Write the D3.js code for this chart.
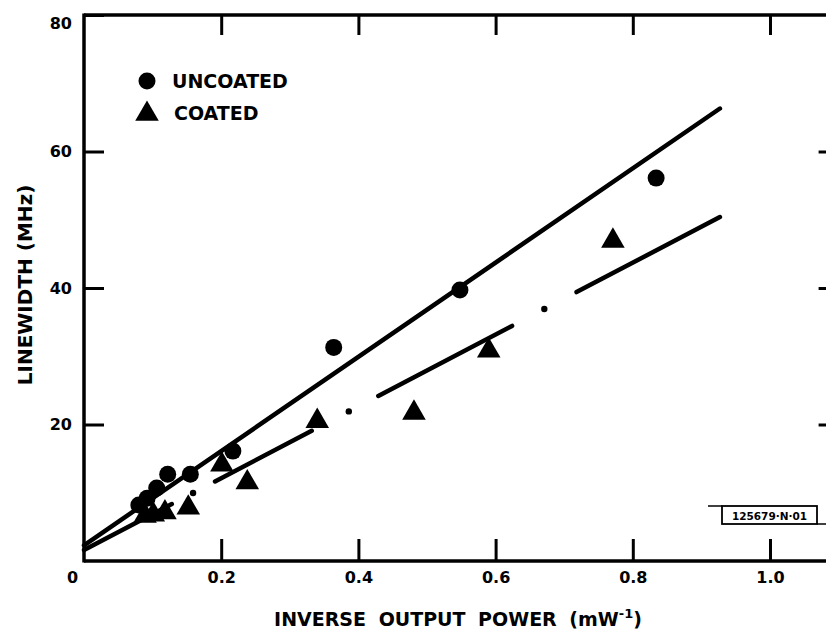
<!DOCTYPE html>
<html>
<head>
<meta charset="utf-8">
<script src="https://cdn.jsdelivr.net/npm/d3@7"></script>
<style>
  body { margin: 0; background: #fff; }
  text { font-family: "DejaVu Sans", sans-serif; font-weight: bold; fill: #000; }
</style>
</head>
<body>
<div id="chart"></div>
<script>
// data (x = inverse output power, mW^-1 ; y = linewidth, MHz)
var uncoatedX = [0.080, 0.092, 0.106, 0.122, 0.155, 0.217, 0.364, 0.548, 0.834];
var uncoatedY = [8.2, 9.2, 10.7, 12.7, 12.7, 16.1, 31.3, 39.7, 56.1];

var coatedX = [0.089, 0.101, 0.118, 0.152, 0.201, 0.238, 0.340, 0.481, 0.590, 0.771];
var coatedY = [6.6, 6.8, 7.1, 7.8, 14.1, 11.5, 20.5, 21.7, 30.8, 46.9];

// fitted lines (end points)
var uncoatedFitX = [0, 0.927];
var uncoatedFitY = [2.3, 66.3];
var coatedFitX = [0, 0.927];
var coatedFitY = [1.6, 50.4];

// dash-dot pattern of the coated fit, in x units
var coatedDashes = [[0, 0.128], [0.191, 0.332], [0.429, 0.624], [0.718, 0.927]];
var coatedDots = [0.159, 0.386, 0.671];

var xTicks = [0, 0.2, 0.4, 0.6, 0.8, 1.0];
var yTicks = [20, 40, 60, 80];

var W = 826, H = 639;

var svg = d3.select("#chart").append("svg")
    .attr("width", W)
    .attr("height", H);

var x = d3.scaleLinear().domain([0, 1.0]).range([84, 770]);
var y = d3.scaleLinear().domain([0, 80]).range([561, 15]);

var fmtX = function(d){ return d === 0 ? "0" : d3.format(".1f")(d); };

// bottom axis, ticks pointing up
var gx = svg.append("g")
    .attr("transform", "translate(0," + y(0) + ")")
    .call(d3.axisBottom(x).tickValues(xTicks).tickFormat(fmtX).tickSize(-22).tickPadding(11));
gx.select(".domain").remove();
gx.selectAll(".tick line").attr("stroke-width", 3);
gx.selectAll(".tick text").attr("font-size", 16).attr("font-family", "DejaVu Sans").attr("font-weight", "bold");
gx.selectAll(".tick").filter(function(d){ return d === 0; }).select("text").attr("dx", -12);
gx.selectAll(".tick").filter(function(d){ return d === 0; }).select("line").remove();

// top ticks
var gt = svg.append("g")
    .attr("transform", "translate(0," + y(80) + ")")
    .call(d3.axisTop(x).tickValues(xTicks.slice(1)).tickFormat("").tickSize(-20));
gt.select(".domain").remove();
gt.selectAll(".tick line").attr("stroke-width", 3);

// left axis, ticks pointing right
var gy = svg.append("g")
    .attr("transform", "translate(" + x(0) + ",0)")
    .call(d3.axisLeft(y).tickValues(yTicks).tickSize(-20).tickPadding(12));
gy.select(".domain").remove();
gy.selectAll(".tick line").attr("stroke-width", 3);
gy.selectAll(".tick text").attr("font-size", 16).attr("font-family", "DejaVu Sans").attr("font-weight", "bold");
gy.selectAll(".tick").filter(function(d){ return d === 80; }).select("text").attr("dy", "0.85em");

// right ticks (the right frame line is just outside the picture)
var gr = svg.append("g")
    .attr("transform", "translate(" + x(1.1) + ",0)")
    .call(d3.axisRight(y).tickValues([20, 40, 60]).tickFormat("").tickSize(-20));
gr.select(".domain").remove();
gr.selectAll(".tick line").attr("stroke-width", 3);

// frame lines
svg.append("line")
    .attr("x1", x(0)).attr("y1", y(0)).attr("x2", W).attr("y2", y(0))
    .attr("stroke", "#000").attr("stroke-width", 3.5);
svg.append("line")
    .attr("x1", x(0)).attr("y1", y(0) + 1.5).attr("x2", x(0)).attr("y2", y(80) - 1.5)
    .attr("stroke", "#000").attr("stroke-width", 3.5);
svg.append("line")
    .attr("x1", x(0)).attr("y1", y(80)).attr("x2", W).attr("y2", y(80))
    .attr("stroke", "#000").attr("stroke-width", 3.5);

// uncoated fit, solid
svg.append("line")
    .attr("x1", x(uncoatedFitX[0])).attr("y1", y(uncoatedFitY[0]))
    .attr("x2", x(uncoatedFitX[1])).attr("y2", y(uncoatedFitY[1]))
    .attr("stroke", "#000").attr("stroke-width", 4.5).attr("stroke-linecap", "round");

// coated fit, dash-dot
var coatedAt = d3.scaleLinear().domain(coatedFitX).range(coatedFitY);
svg.selectAll(".cdash").data(coatedDashes).enter().append("line")
    .attr("class", "cdash")
    .attr("x1", function(d){ return x(d[0]); })
    .attr("y1", function(d){ return y(coatedAt(d[0])); })
    .attr("x2", function(d){ return x(d[1]); })
    .attr("y2", function(d){ return y(coatedAt(d[1])); })
    .attr("stroke", "#000").attr("stroke-width", 4.5).attr("stroke-linecap", "round");
svg.selectAll(".cdot").data(coatedDots).enter().append("circle")
    .attr("class", "cdot")
    .attr("cx", function(d){ return x(d); })
    .attr("cy", function(d){ return y(coatedAt(d)); })
    .attr("r", 3.2)
    .attr("fill", "#000");

// points
var tri = d3.symbol().type(d3.symbolTriangle).size(240);
svg.selectAll(".coated").data(coatedX).enter().append("path")
    .attr("class", "coated")
    .attr("d", tri)
    .attr("transform", function(d, i){ return "translate(" + x(d) + "," + y(coatedY[i]) + ")"; })
    .attr("fill", "#000");

svg.selectAll(".uncoated").data(uncoatedX).enter().append("circle")
    .attr("class", "uncoated")
    .attr("cx", function(d){ return x(d); })
    .attr("cy", function(d, i){ return y(uncoatedY[i]); })
    .attr("r", 8.5)
    .attr("fill", "#000");

// legend
svg.append("circle").attr("cx", 147).attr("cy", 81).attr("r", 8.5).attr("fill", "#000");
svg.append("text").attr("x", 172).attr("y", 88).attr("font-size", 19).text("UNCOATED");
svg.append("path").attr("d", tri).attr("transform", "translate(147,114)").attr("fill", "#000");
svg.append("text").attr("x", 174).attr("y", 120).attr("font-size", 19).text("COATED");

// axis titles
svg.append("text")
    .attr("x", 458).attr("y", 626)
    .attr("text-anchor", "middle")
    .attr("font-size", 19)
    .attr("word-spacing", 6)
    .html('INVERSE OUTPUT POWER (mW<tspan dy="-8" font-size="13">-1</tspan><tspan dy="8">)</tspan>');

svg.append("text")
    .attr("transform", "translate(32,285) rotate(-90)")
    .attr("text-anchor", "middle")
    .attr("font-size", 20)
    .text("LINEWIDTH (MHz)");

// figure number tag
svg.append("line").attr("x1", 708).attr("y1", 506).attr("x2", 722).attr("y2", 506)
    .attr("stroke", "#000").attr("stroke-width", 1.5);
svg.append("rect").attr("x", 722).attr("y", 506).attr("width", 95).attr("height", 18)
    .attr("fill", "none").attr("stroke", "#000").attr("stroke-width", 1.8);
svg.append("line").attr("x1", 817).attr("y1", 524).attr("x2", W).attr("y2", 524)
    .attr("stroke", "#000").attr("stroke-width", 1.5);
svg.append("text").attr("x", 769.5).attr("y", 519.5).attr("text-anchor", "middle")
    .attr("font-size", 10.5).attr("font-weight", "normal").text("125679·N·01");
</script>
</body>
</html>
